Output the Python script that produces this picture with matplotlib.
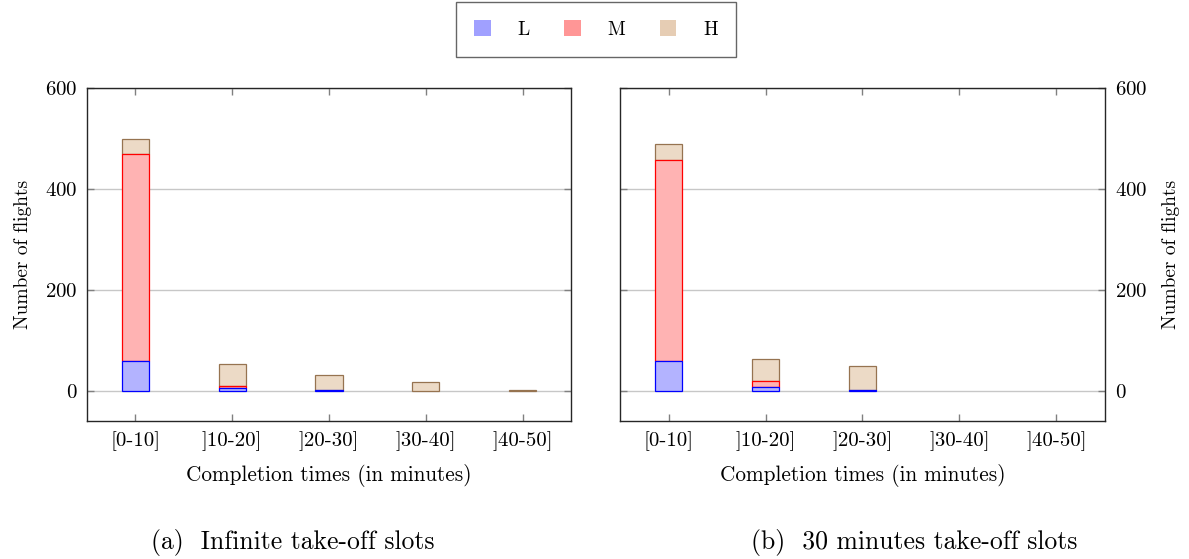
import matplotlib
matplotlib.use("Agg")
import matplotlib.pyplot as plt
from matplotlib.patches import Patch
import numpy as np

categories = ["[0-10]", "]10-20]", "]20-30]", "]30-40]", "]40-50]"]
series_names = ["L", "M", "H"]
left_L = [58, 6, 1, 0, 0]
left_M = [411, 3, 0, 0, 0]
left_H = [30, 43, 31, 17, 1]
right_L = [58, 8, 1, 0, 0]
right_M = [400, 11, 0, 0, 0]
right_H = [31, 43, 49, 0, 0]
yticks = [0, 200, 400, 600]
captions = ["(a)  Infinite take-off slots", "(b)  30 minutes take-off slots"]
xlabel = "Completion times (in minutes)"
ylabel = "Number of flights"

plt.rcParams["font.family"] = ["cmr10", "DejaVu Serif"]
plt.rcParams["mathtext.fontset"] = "cm"
plt.rcParams["axes.formatter.use_mathtext"] = True

fills = [(179/255, 179/255, 1.0), (1.0, 179/255, 179/255), (236/255, 218/255, 198/255)]
edges = [(0, 0, 1.0), (1.0, 0, 0), (150/255, 115/255, 80/255)]
legend_fills = [(160/255, 160/255, 1.0), (1.0, 150/255, 150/255), (230/255, 205/255, 180/255)]

fig = plt.figure(figsize=(11.89, 5.59), dpi=100)
W, H = 1189, 559
ax1 = fig.add_axes([87/W, 1-421/H, 484/W, 333/H])
ax2 = fig.add_axes([620/W, 1-421/H, 485/W, 333/H])

x = np.arange(len(categories))
bw = 0.28
TICK_FS = 15
LABEL_FS = 15.3
YLABEL_FS = 14

def draw(ax, data, right=False):
    bottom = np.zeros(len(categories))
    for k, (vals, fc, ec) in enumerate(zip(data, fills, edges)):
        vals = np.array(vals, dtype=float)
        idx = vals > 0
        ax.bar(x[idx], vals[idx], bw, bottom=bottom[idx], color=fc, edgecolor=ec,
               linewidth=0.9, zorder=6 - k)
        bottom = bottom + vals
    ax.set_xlim(-0.5, len(categories) - 0.5)
    ax.set_ylim(-60, 600)
    ax.set_yticks(yticks)
    ax.set_xticks(x)
    ax.set_xticklabels(categories, fontsize=TICK_FS)
    ax.grid(axis="y", color=(0.78, 0.78, 0.78), linewidth=1.0, zorder=0)
    ax.tick_params(direction="in", length=5, width=1.0, color=(0.5, 0.5, 0.5),
                   top=True, bottom=True, left=True, right=True, labelsize=TICK_FS, pad=7)
    for s in ax.spines.values():
        s.set_linewidth(1.0)
        s.set_color((0.15, 0.15, 0.15))
    ax.set_xlabel(xlabel, fontsize=LABEL_FS, labelpad=10)
    if right:
        ax.yaxis.tick_right()
        ax.yaxis.set_label_position("right")
        ax.tick_params(left=True, right=True, labelleft=False, labelright=True)
        ax.set_ylabel(ylabel, fontsize=YLABEL_FS, labelpad=11)
    else:
        ax.set_ylabel(ylabel, fontsize=YLABEL_FS, labelpad=9)

draw(ax1, [left_L, left_M, left_H])
draw(ax2, [right_L, right_M, right_H], right=True)

fig.text(293/W, 1-542/H, captions[0], ha="center", va="center", fontsize=18.5)
fig.text(914/W, 1-542/H, captions[1], ha="center", va="center", fontsize=18.5)

handles = [Patch(facecolor=c, edgecolor="none") for c in legend_fills]
leg = fig.legend(handles, series_names, loc="upper center", bbox_to_anchor=(596/W, 1-2/H),
                 ncol=3, frameon=True, fancybox=False, fontsize=14,
                 handlelength=0.85, handleheight=0.85, handletextpad=1.4, columnspacing=1.75,
                 borderpad=0.95, borderaxespad=0)
leg.get_frame().set_edgecolor((0.25, 0.25, 0.25))
leg.get_frame().set_linewidth(1.0)

fig.savefig("out.png", dpi=100)
